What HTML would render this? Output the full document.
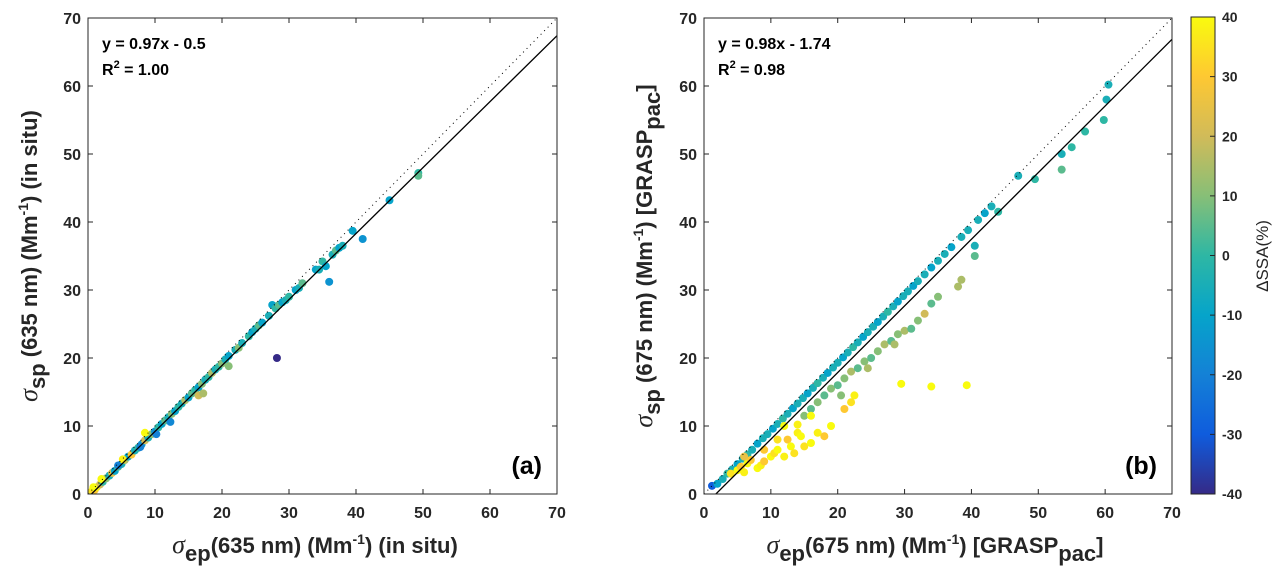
<!DOCTYPE html>
<html><head><meta charset="utf-8">
<style>
html,body{margin:0;padding:0;background:#fff;}
svg{display:block;font-family:"Liberation Sans",Arial,sans-serif;}
.tick{font-size:16px;font-weight:bold;fill:#262626;}
.lab{font-size:22px;font-weight:bold;fill:#262626;}
.ann{font-size:16px;font-weight:bold;fill:#000;}
</style></head>
<body>
<svg id="fig" width="1285" height="581" viewBox="0 0 1285 581"></svg>
<script>
// ---------- data ----------
const axisTicks=[0,10,20,30,40,50,60,70];
const cbTicks=[40,30,20,10,0,-10,-20,-30,-40];
// panel a: x, y, dSSA
const aX=[0.3,0.6,1,1.3,1.8,2.2,2.7,3.2,3.6,4,4.5,5,5.5,6,6.5,7,7.5,8,8.5,9,9.5,10,10.5,11,11.5,12,12.5,13,13.5,14,14.5,15,15.5,16,16.5,17,17.5,18,18.5,19,19.5,20,20.5,21,22,22.5,23,24,24.5,25,25.5,26,27,27.5,28,28.5,29,29.5,30,31,31.5,32,34,34.5,35,35.5,36,36.5,37,37.5,38,39.5,41,45,49.3,49.3,28.2,4.5,7.8,10.2,12.3,8.5,5.2,2,0.8,16.5,17.2,21];
const aY=[0.2,0.4,0.6,1,1.4,1.8,2.3,2.7,3.1,3.4,4,4.4,5,5.5,5.8,6.4,6.8,7.3,7.9,8.3,8.8,9.2,9.8,10.3,10.8,11.3,11.8,12.2,12.8,13.3,13.8,14.2,14.8,15.3,15.7,16.2,16.8,17.2,17.8,18.3,18.7,19.2,19.8,20.3,21.2,21.5,22.2,23.2,23.8,24.3,24.8,25.2,26.2,27.8,27.3,27.8,28.2,28.5,29,30,30.3,31,33,33,34.2,33.5,31.2,35.2,35.8,36.2,36.5,38.7,37.5,43.2,47.2,46.8,20,4.2,6.9,8.8,10.6,9,5.1,2.2,1,14.5,14.8,18.8];
const aC=[40,35,30,38,20,0,10,-5,25,-10,5,-5,15,-10,30,-5,0,-15,20,-5,10,-15,0,-10,5,-5,10,-10,0,-5,15,-10,5,0,-10,10,-5,0,15,-5,0,10,-5,-10,-5,10,-5,0,-10,-5,5,-10,-5,-10,0,5,-10,-5,0,-10,-5,5,-10,-5,0,-10,-15,-5,5,-10,-5,-10,-15,-10,0,5,-40,-20,-20,-20,-18,40,38,40,40,20,15,10];
// panel b
const bX=[1.2,2,2.8,3.5,4.2,5,5.8,6.5,7.2,8,8.8,9.5,10.3,11,11.8,12.5,13.3,14,14.8,15.5,16.3,17,17.8,18.5,19.3,20,20.8,21.5,22.3,23,23.8,24.5,25.3,26,26.8,27.5,28.3,29,29.8,30.5,31.3,32,33,34,35,36,37,38.5,39.5,41,42,43,44,47,49.5,53.5,53.5,55,57,59.8,60.2,60.5,40.5,40.5,38.5,38,
15,16,17,18,19,20,21,22,23,24,25,26,27,28,29,30,31,32,33,34,35,20.5,24.5,28.5,
4,5,5.5,6,6.5,7,8,8.5,9,10,10.5,11,12,12.5,13,13.5,14,14.5,15,16,17,18,19,21,22,22.5,12,14,16,29.5,34,39.3,6,9,11];
const bY=[1.2,1.5,2.2,3,3.6,4.4,5.2,5.8,6.5,7.4,8.2,8.8,9.6,10.3,11.1,11.8,12.6,13.3,14.1,14.8,15.6,16.3,17.1,17.8,18.6,19.3,20.1,20.8,21.6,22.3,23.1,23.8,24.6,25.3,26.1,26.8,27.6,28.3,29.1,29.8,30.6,31.3,32.3,33.3,34.3,35.3,36.3,37.8,38.8,40.3,41.3,42.3,41.5,46.8,46.3,50,47.7,51,53.3,55,58,60.2,36.5,35,31.5,30.5,
11.5,12.5,13.5,14.5,15.5,16,17,18,18.5,19.5,20,21,22,22.5,23.5,24,24.3,25.5,26.5,28,29,14.5,18.5,22,
3,3.5,4,3.2,4.5,5,3.8,4.2,4.8,5.5,6,6.5,5.5,8,7,6,9,8.5,7,7.5,9,8.5,10,12.5,13.5,14.5,10,10.2,11.5,16.2,15.8,16,5.5,6.5,8];
const bC=[-30,-10,-5,0,-5,-10,-5,0,-5,-10,-5,-5,-10,-5,0,-5,-10,-5,-5,-10,-5,0,-5,-10,-5,-5,-10,-5,0,-5,-10,-5,-5,-10,-5,0,-5,-10,-5,-5,-10,-5,-5,-10,-5,-5,-10,-5,-5,-5,-10,-5,0,-5,0,-5,5,0,0,0,-5,-5,-5,5,15,15,
10,5,10,5,10,5,10,15,5,10,5,10,15,5,10,15,5,10,20,5,10,10,15,15,
35,40,30,38,40,30,40,38,30,40,35,40,38,30,40,35,38,40,35,40,38,30,40,30,35,38,40,38,40,40,40,40,25,30,35];

// ---------- helpers ----------
const NS="http://www.w3.org/2000/svg";
const svg=document.getElementById('fig');
function mk(tag,attrs,parent){const e=document.createElementNS(NS,tag);for(const k in attrs)e.setAttribute(k,attrs[k]);(parent||svg).appendChild(e);return e;}
const stops=[[-40,[53,42,135]],[-30,[15,92,221]],[-20,[20,129,214]],[-10,[6,164,202]],[0,[46,183,164]],[10,[135,191,119]],[20,[209,187,89]],[30,[254,200,50]],[40,[249,251,14]]];
function cmap(v){v=Math.max(-40,Math.min(40,v));for(let i=0;i<stops.length-1;i++){const a=stops[i],b=stops[i+1];if(v<=b[0]){const t=(v-a[0])/(b[0]-a[0]);const c=a[1].map((q,j)=>Math.round(q+(b[1][j]-q)*t));return `rgb(${c})`;}}return 'rgb(249,251,14)';}

function panel(id,L,R,T,B,xs,ys,cs,slope,icpt,eq,r2,tag){
  const g=mk('g',{});
  
  
  const sx=v=>L+(v/70)*(R-L), sy=v=>B-(v/70)*(B-T);
  const cp=mk('clipPath',{id:id+'-clip'},g);mk('rect',{x:L,y:T,width:R-L,height:B-T},cp);
  const pg=mk('g',{'clip-path':`url(#${id}-clip)`},g);
  for(let i=0;i<xs.length;i++){
    const c=mk('circle',{cx:sx(xs[i]),cy:sy(ys[i]),r:4,fill:cmap(cs[i])},pg);
    
    
  }
  const d=mk('line',{x1:sx(0),y1:sy(0),x2:sx(70),y2:sy(70),stroke:'#000','stroke-width':1,'stroke-dasharray':'1,4'},pg);
  
  const f=mk('line',{x1:sx(0),y1:sy(icpt),x2:sx(70),y2:sy(slope*70+icpt),stroke:'#000','stroke-width':1.3},pg);
  
  mk('rect',{x:L,y:T,width:R-L,height:B-T,fill:'none',stroke:'#262626','stroke-width':1},g);
  axisTicks.forEach(t=>{
    mk('line',{x1:sx(t),y1:B,x2:sx(t),y2:B-5,stroke:'#262626'},g);
    mk('line',{x1:sx(t),y1:T,x2:sx(t),y2:T+5,stroke:'#262626'},g);
    mk('line',{x1:L,y1:sy(t),x2:L+5,y2:sy(t),stroke:'#262626'},g);
    mk('line',{x1:R,y1:sy(t),x2:R-5,y2:sy(t),stroke:'#262626'},g);
    const xt=mk('text',{x:sx(t),y:B+24,'text-anchor':'middle',class:'tick'},g);xt.textContent=t;
    
    const yt=mk('text',{x:L-7,y:sy(t)+6,'text-anchor':'end',class:'tick'},g);yt.textContent=t;
    
  });
  const e1=mk('text',{x:L+14,y:T+31,class:'ann'},g);e1.textContent=eq;
  
  const e2=mk('text',{x:L+14,y:T+57,class:'ann'},g);e2.innerHTML='R<tspan dy="-7" font-size="11">2</tspan><tspan dy="7"> = '+r2+'</tspan>';
  
  const p=mk('text',{x:R-15,y:B-20,'text-anchor':'end',style:'font-size:25px;font-weight:bold;fill:#000'},g);p.textContent=tag;
  
  return g;
}
panel('panel-a',88,557,18,494,aX,aY,aC,0.97,-0.5,'y = 0.97x - 0.5','1.00','(a)');
panel('panel-b',704,1172,18,494,bX,bY,bC,0.98,-1.74,'y = 0.98x - 1.74','0.98','(b)');

function label(x,y,html,rot,name){
  const t=mk('text',{x:x,y:y,'text-anchor':'middle',class:'lab',transform:rot?`rotate(-90 ${x} ${y})`:''});
  t.innerHTML=html;
}
const sig='<tspan font-family="Liberation Serif,serif" font-style="italic" font-weight="normal" font-size="26">σ</tspan>';
label(315,553,sig+'<tspan dy="8">ep</tspan><tspan dy="-8">(635 nm) (Mm</tspan><tspan dy="-9" font-size="14">-1</tspan><tspan dy="9">) (in situ)</tspan>',false,'x-axis-title-a');
label(37,256,sig+'<tspan dy="8">sp</tspan><tspan dy="-8"> (635 nm) (Mm</tspan><tspan dy="-9" font-size="14">-1</tspan><tspan dy="9">) (in situ)</tspan>',true,'y-axis-title-a');
label(935,553,sig+'<tspan dy="8">ep</tspan><tspan dy="-8">(675 nm) (Mm</tspan><tspan dy="-9" font-size="14">-1</tspan><tspan dy="9">) [GRASP</tspan><tspan dy="8">pac</tspan><tspan dy="-8">]</tspan>',false,'x-axis-title-b');
label(652,256,sig+'<tspan dy="8">sp</tspan><tspan dy="-8"> (675 nm) (Mm</tspan><tspan dy="-9" font-size="14">-1</tspan><tspan dy="9">) [GRASP</tspan><tspan dy="8">pac</tspan><tspan dy="-8">]</tspan>',true,'y-axis-title-b');

// colorbar
const cb=mk('g',{});
const gr=mk('linearGradient',{id:'cbg',x1:0,y1:1,x2:0,y2:0},mk('defs',{},cb));
stops.forEach(s=>mk('stop',{offset:(s[0]+40)/80,'stop-color':cmap(s[0])},gr));
const CT=17,CB=494,CL=1191,CR=1215;
mk('rect',{x:CL,y:CT,width:CR-CL,height:CB-CT,fill:'url(#cbg)',stroke:'#262626'},cb);
cbTicks.forEach(t=>{const y=CB-(t+40)/80*(CB-CT);
  mk('line',{x1:CR-5,y1:y,x2:CR,y2:y,stroke:'#262626'},cb);
  const tx=mk('text',{x:CR+7,y:y+5,class:'tick',style:'font-size:14px'},cb);tx.textContent=t;
  });
const ct=mk('text',{x:1268,y:256,'text-anchor':'middle',transform:'rotate(-90 1268 256)',style:'font-size:17px;fill:#262626'});
ct.textContent='ΔSSA(%)';
</script>
</body></html>
